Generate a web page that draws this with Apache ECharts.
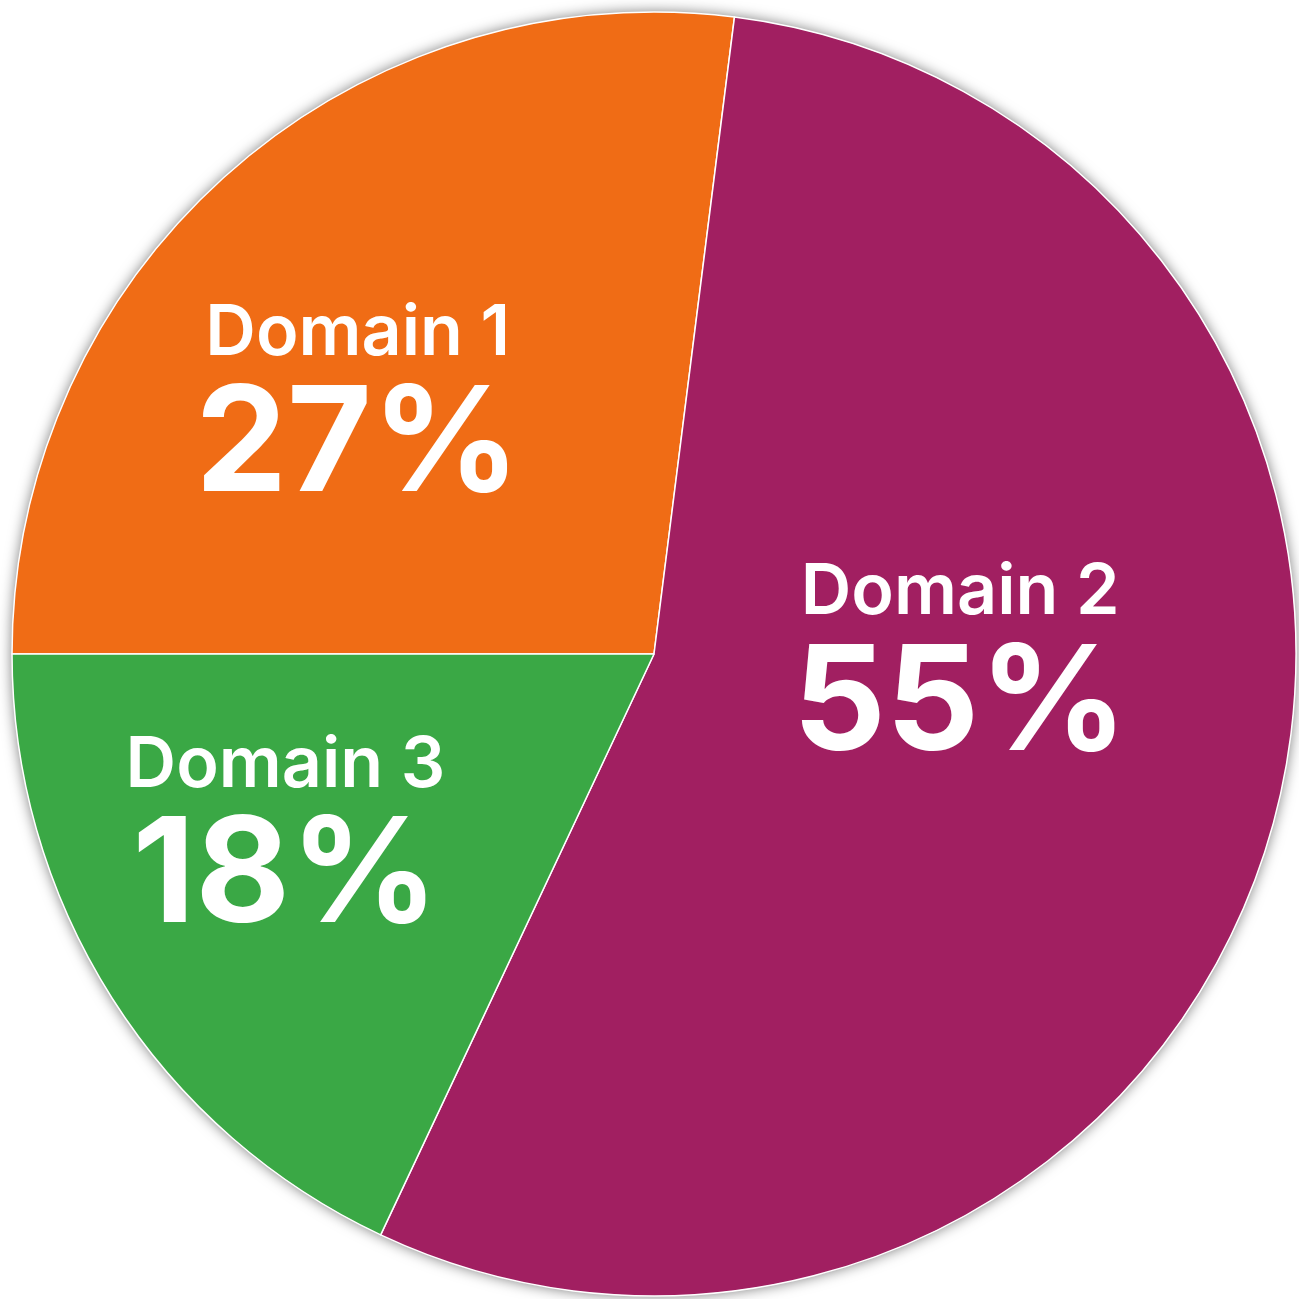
<!DOCTYPE html>
<html>
<head>
<meta charset="utf-8">
<script src="https://cdn.jsdelivr.net/npm/echarts@6/dist/echarts.min.js"></script>
<style>
  html, body { margin: 0; padding: 0; background: #fff; }
  #chart { width: 1299px; height: 1299px; }
</style>
</head>
<body>
<div id="chart"></div>
<script>
var categories = ['Domain 1', 'Domain 2', 'Domain 3'];
var shares = [27, 55, 18];
var colors = ['#F06C15', '#A11F61', '#3AA845'];
// hand-placed label nudges (px) away from the default inside spot
var labelOffsets = [[-82, -4], [-5, -78], [-95, 11]];

var myChart = echarts.init(document.getElementById('chart'));

var pieData = categories.map(function (name, i) {
  return {
    name: name,
    value: shares[i],
    itemStyle: { color: colors[i] },
    label: { offset: labelOffsets[i] }
  };
});

var option = {
  backgroundColor: '#ffffff',
  animation: false,
  series: [
    {
      // plain disc underneath, only there to cast the soft edge shadow
      type: 'pie',
      silent: true,
      z: 1,
      center: [654, 654],
      radius: 642,
      label: { show: false },
      labelLine: { show: false },
      itemStyle: {
        color: '#ffffff',
        shadowBlur: 14,
        shadowColor: 'rgba(0,0,0,0.55)'
      },
      data: [{ name: '', value: 1 }]
    },
    {
      type: 'pie',
      z: 2,
      center: [654, 654],
      radius: 642,
      startAngle: 180,
      clockwise: true,
      itemStyle: {
        borderColor: '#ffffff',
        borderWidth: 1.5
      },
      label: {
        show: true,
        position: 'inside',
        formatter: function (p) {
          return '{n|' + p.name + '}\n{p|' + p.value + '%}';
        },
        rich: {
          n: {
            color: '#fff',
            fontFamily: 'Inter',
            fontWeight: 600,
            fontSize: 70,
            lineHeight: 80
          },
          p: {
            color: '#fff',
            fontFamily: 'Inter',
            fontWeight: 700,
            fontSize: 146,
            lineHeight: 146
          }
        }
      },
      labelLine: { show: false },
      data: pieData
    }
  ]
};

myChart.setOption(option);
</script>
</body>
</html>
